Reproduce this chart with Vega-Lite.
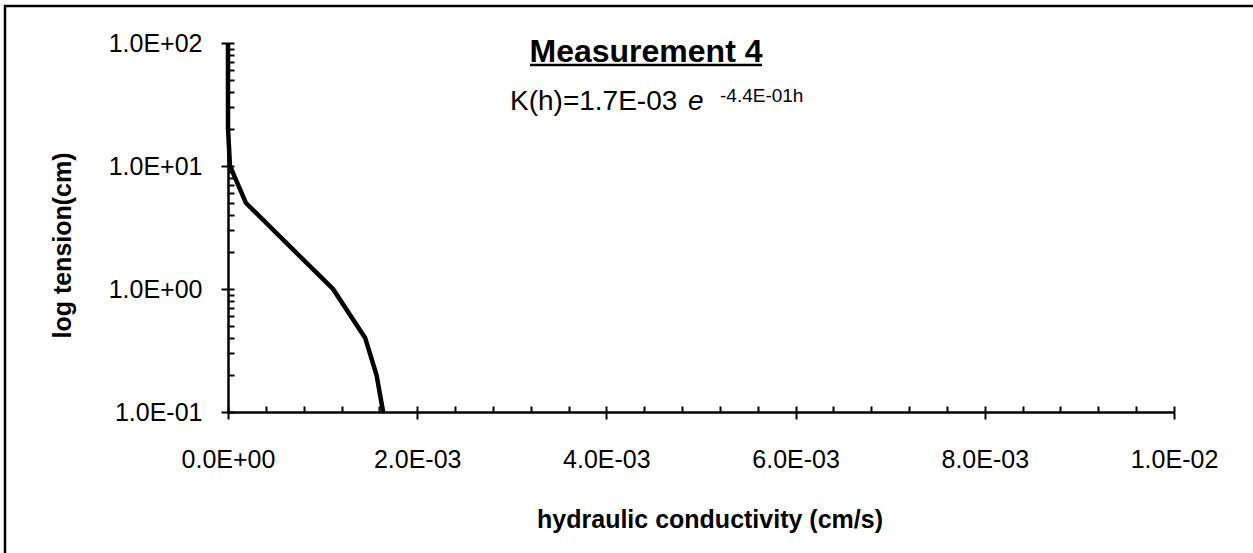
{
  "$schema": "https://vega.github.io/schema/vega-lite/v6.json",
  "autosize": {"type": "none"},
  "width": 1248,
  "height": 547,
  "padding": {"left": 5, "top": 6, "right": 0, "bottom": 0},
  "background": "white",
  "config": {
    "font": "Liberation Sans",
    "view": {"stroke": "black", "strokeWidth": 2.5, "strokeDash": [1248, 1795, 547]}
  },
  "data": {
    "values": [
      {"h": 0.1, "K": 0.00164},
      {"h": 0.2, "K": 0.00157},
      {"h": 0.4, "K": 0.00145},
      {"h": 1, "K": 0.00111},
      {"h": 5, "K": 0.00019},
      {"h": 10, "K": 0.000021},
      {"h": 20, "K": 0.0000003},
      {"h": 50, "K": 0},
      {"h": 100, "K": 0}
    ]
  },
  "resolve": {"axis": {"x": "independent", "y": "independent"}},
  "layer": [
    {
      "mark": {"type": "line", "color": "black", "strokeWidth": 4.5},
      "encoding": {
        "x": {
          "field": "K", "type": "quantitative",
          "scale": {"domain": [0, 0.01], "range": [223, 1169], "nice": false, "zero": false},
          "axis": {
            "orient": "bottom", "offset": -141,
            "values": [0, 0.002, 0.004, 0.006, 0.008, 0.01],
            "labelExpr": "replace(replace(upper(format(datum.value,'.1e')),'E+','E+0'),'E-','E-0')",
            "labelFontSize": 25, "labelColor": "black", "labelPadding": 48, "labelBaseline": "alphabetic",
            "labelFlush": false, "labelOverlap": false,
            "tickSize": 7, "tickWidth": 2, "tickColor": "black",
            "domainColor": "black", "domainWidth": 2.5, "grid": false,
            "title": "hydraulic conductivity (cm/s)", "titleFontSize": 25, "titleFontWeight": "bold", "titleColor": "black",
            "titleX": 704.5, "titleY": 115, "titleBaseline": "alphabetic"
          }
        },
        "y": {
          "field": "h", "type": "quantitative",
          "scale": {"type": "log", "domain": [0.1, 100], "range": [406, 37], "nice": false},
          "axis": {
            "orient": "left", "offset": -223,
            "values": [0.1, 1, 10, 100],
            "labelExpr": "replace(replace(upper(format(datum.value,'.1e')),'E+','E+0'),'E-','E-0')",
            "labelFontSize": 25, "labelColor": "black", "labelPadding": 19,
            "labelFlush": false, "labelOverlap": false,
            "tickSize": 7, "tickWidth": 2, "tickColor": "black",
            "domainColor": "black", "domainWidth": 2.5, "grid": false,
            "title": "log tension(cm)", "titleFontSize": 25, "titleFontWeight": "bold", "titleColor": "black",
            "titleX": -158, "titleY": 239, "titleBaseline": "alphabetic", "titleAngle": 270
          }
        },
        "order": {"field": "h", "type": "quantitative"}
      }
    },
    {
      "mark": {"type": "point", "opacity": 0},
      "encoding": {
        "x": {
          "field": "K", "type": "quantitative",
          "axis": {
            "orient": "bottom", "offset": -141,
            "values": [0, 0.0004, 0.0008, 0.0012, 0.0016, 0.002, 0.0024, 0.0028, 0.0032, 0.0036, 0.004, 0.0044, 0.0048, 0.0052, 0.0056, 0.006, 0.0064, 0.0068, 0.0072, 0.0076, 0.008, 0.0084, 0.0088, 0.0092, 0.0096, 0.01],
            "labels": false, "domain": false, "grid": false, "title": null,
            "tickSize": -6, "tickWidth": 2, "tickColor": "black"
          }
        },
        "y": {
          "field": "h", "type": "quantitative",
          "axis": {
            "orient": "left", "offset": -223,
            "values": [0.1, 0.2, 0.3, 0.4, 0.5, 0.6, 0.7, 0.8, 0.9, 1, 2, 3, 4, 5, 6, 7, 8, 9, 10, 20, 30, 40, 50, 60, 70, 80, 90, 100],
            "labels": false, "domain": false, "grid": false, "title": null,
            "tickSize": -6, "tickWidth": 2, "tickColor": "black"
          }
        }
      }
    },
    {
      "data": {"values": [{}]},
      "mark": {"type": "text", "text": "Measurement 4", "font": "Liberation Sans", "fontSize": 32, "fontWeight": "bold", "align": "center", "baseline": "alphabetic", "color": "black"},
      "encoding": {
        "x": {"datum": 0.0044186, "type": "quantitative", "axis": null},
        "y": {"datum": 70.1, "type": "quantitative", "axis": null}
      }
    },
    {
      "data": {"values": [{}]},
      "mark": {"type": "rule", "color": "black", "strokeWidth": 2.5},
      "encoding": {
        "x": {"datum": 0.003192, "type": "quantitative", "axis": null},
        "x2": {"datum": 0.005645},
        "y": {"datum": 66.2, "type": "quantitative", "axis": null}
      }
    },
    {
      "data": {"values": [{}]},
      "mark": {"type": "text", "text": "K(h)=1.7E-03", "font": "Liberation Sans", "fontSize": 28, "align": "left", "baseline": "alphabetic", "color": "black"},
      "encoding": {
        "x": {"datum": 0.002981, "type": "quantitative", "axis": null},
        "y": {"datum": 28.27, "type": "quantitative", "axis": null}
      }
    },
    {
      "data": {"values": [{}]},
      "mark": {"type": "text", "text": "e", "font": "Liberation Sans", "fontSize": 28, "fontStyle": "italic", "align": "left", "baseline": "alphabetic", "color": "black"},
      "encoding": {
        "x": {"datum": 0.0048626, "type": "quantitative", "axis": null},
        "y": {"datum": 28.27, "type": "quantitative", "axis": null}
      }
    },
    {
      "data": {"values": [{}]},
      "mark": {"type": "text", "text": "-4.4E-01h", "font": "Liberation Sans", "fontSize": 19, "align": "left", "baseline": "alphabetic", "color": "black"},
      "encoding": {
        "x": {"datum": 0.0052008, "type": "quantitative", "axis": null},
        "y": {"datum": 33.1, "type": "quantitative", "axis": null}
      }
    }
  ]
}
